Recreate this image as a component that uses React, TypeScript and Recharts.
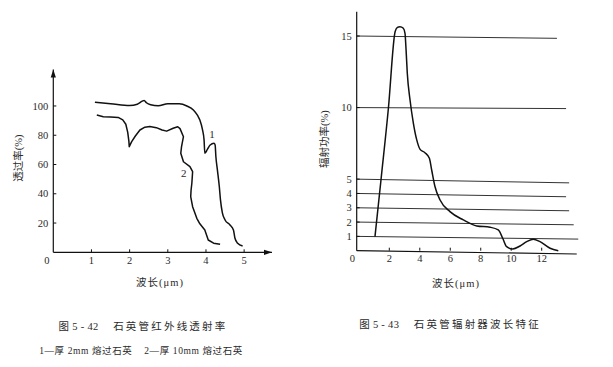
import React from 'react';
import { LineChart, Line, XAxis, YAxis, ReferenceLine, ReferenceDot } from 'recharts';

// ---------- Data: Fig 5-42 (transmission of fused quartz) ----------
const leftXTicks = [0, 1, 2, 3, 4, 5];
const leftYTicks = [20, 40, 60, 80, 100];

// Curve 1: 2mm fused quartz
const quartz2mmWavelength = [1.09, 1.5, 2.0, 2.2, 2.33, 2.38, 2.44, 2.55, 2.75, 3.0, 3.3, 3.5, 3.67, 3.78, 3.84, 3.91, 3.95, 3.97, 4.04, 4.11, 4.21, 4.24, 4.26, 4.3, 4.35, 4.38, 4.43, 4.5, 4.63, 4.72, 4.76, 4.83, 4.96];
const quartz2mmTransmission = [102.5, 101.6, 100.3, 101.2, 103.3, 103.8, 102.2, 100.8, 100.1, 101.6, 101.5, 100, 97.3, 93.5, 90.4, 83.6, 76.8, 67.7, 70.5, 73.3, 74.5, 73.3, 65.3, 56.2, 44.8, 35.8, 27, 22.1, 18.7, 15.2, 9.6, 6.2, 4.3];

// Curve 2: 10mm fused quartz
const quartz10mmWavelength = [1.14, 1.31, 1.5, 1.7, 1.82, 1.9, 1.95, 1.98, 1.99, 2.05, 2.15, 2.27, 2.4, 2.53, 2.7, 2.85, 2.97, 3.14, 3.26, 3.32, 3.41, 3.38, 3.36, 3.34, 3.41, 3.58, 3.65, 3.63, 3.61, 3.6, 3.65, 3.76, 3.84, 3.97, 4.06, 4.2, 4.37];
const quartz10mmTransmission = [93.8, 92.7, 92.4, 92.2, 90.5, 87.5, 82, 76, 72.2, 75.5, 79.5, 83.6, 85.5, 85.9, 85.2, 83.6, 82.8, 84.8, 85.8, 84.5, 79, 75, 72.2, 67.7, 61.9, 58.5, 55.1, 47.2, 42.6, 38, 31.2, 23.2, 19.5, 15.3, 8.4, 6.2, 5.5];

// ---------- Data: Fig 5-43 (quartz tube emitter spectrum) ----------
const rightXTicks = [0, 2, 4, 6, 8, 10, 12];
const rightYTicks = [1, 2, 3, 4, 5, 10, 15];

const emitterWavelength = [1.06, 1.46, 1.94, 2.38, 2.53, 2.7, 2.92, 3.03, 3.1, 3.18, 3.36, 3.58, 3.8, 4.02, 4.34, 4.63, 4.78, 5.0, 5.33, 5.98, 6.86, 7.74, 8.61, 9.15, 9.44, 9.7, 10.1, 10.58, 11.02, 11.45, 11.89, 12.55, 13.09];
const emitterPower = [0.98, 5.01, 9.95, 15.3, 15.6, 15.65, 15.54, 15.19, 14.03, 12.4, 10.53, 8.9, 7.74, 7.08, 6.85, 6.46, 5.64, 4.47, 3.54, 2.73, 2.15, 1.73, 1.64, 1.45, 0.87, 0.28, 0.12, 0.33, 0.63, 0.8, 0.63, 0.17, 0];

// Horizontal guide lines of Fig 5-43 (level, where it ends)
const guideLevels = [15, 10, 5, 4, 3, 2, 1, 0];
const guideEnds = [13.0, 13.6, 13.8, 13.6, 13.8, 14.1, 14.4, 14.3];

// ---------- helpers ----------
const zip = (xs: number[], ys: number[]) => xs.map((x, i) => ({ x, y: ys[i] }));
const curve1 = zip(quartz2mmWavelength, quartz2mmTransmission);
const curve2 = zip(quartz10mmWavelength, quartz10mmTransmission);
const emitter = zip(emitterWavelength, emitterPower);

// scan skew of the guide lines (drop at right end, in value units)
const guideSkew = [0.16, 0.07, 0.26, 0.23, 0.21, 0.19, 0.19, 0.23];

const FONT = "'Liberation Serif', 'Noto Sans CJK SC', serif";
const INK = '#111';
const TXT = '#2a2a2a';

const XTick = (props: any) => {
  const { x, y, payload } = props;
  const v = payload.value;
  return (
    <g>
      {v !== 0 && <line x1={x} x2={x} y1={y} y2={y - 3} stroke={INK} strokeWidth={1} />}
      <text x={v === 0 ? x - 6.5 : x} y={y + 8} dy="0.35em" textAnchor="middle" fontSize={10.5} fill={TXT} fontFamily={FONT}>
        {v}
      </text>
    </g>
  );
};

const YTick = (props: any) => {
  const { x, y, payload } = props;
  return (
    <g>
      <line x1={x} x2={x + 3} y1={y} y2={y} stroke={INK} strokeWidth={1} />
      <text x={x - 5} y={y} dy="0.35em" textAnchor="end" fontSize={10.5} fill={TXT} fontFamily={FONT}>
        {payload.value}
      </text>
    </g>
  );
};

const upArrow = (p: any) => <path d={`M${p.cx},${p.cy} l-2.6,8 l5.2,0 z`} fill={INK} />;
const rightArrow = (p: any) => <path d={`M${p.cx},${p.cy} l-8,-2.6 l0,5.2 z`} fill={INK} />;
const curveLabel = (text: string) => (p: any) => (
  <text x={p.cx} y={p.cy} dy="0.35em" textAnchor="middle" fontSize={11} fill={TXT} fontFamily={FONT}>
    {text}
  </text>
);

const abs = (style: React.CSSProperties): React.CSSProperties => ({ position: 'absolute', ...style });

const AX_H = 30;
const AX_W = 40;

export default function App() {
  return (
    <div style={abs({ left: 0, top: 0, width: 613, height: 367, background: '#fff', fontFamily: FONT, color: TXT, overflow: 'hidden' })}>
      {/* Left chart */}
      <div style={abs({ left: 0, top: 0 })}>
        <LineChart width={613} height={367} margin={{ top: 69.4, right: 341, bottom: 114.7 - AX_H, left: 53.3 - AX_W }}>
          <XAxis
            type="number"
            dataKey="x"
            domain={[0, 5.73]}
            ticks={leftXTicks}
            height={AX_H}
            tickSize={0}
            tickMargin={0}
            tickLine={false}
            tick={<XTick />}
            axisLine={{ stroke: INK, strokeWidth: 1.2 }}
            interval={0}
          />
          <YAxis
            type="number"
            domain={[0, 125]}
            ticks={leftYTicks}
            width={AX_W}
            tickSize={0}
            tickMargin={0}
            tickLine={false}
            tick={<YTick />}
            axisLine={{ stroke: INK, strokeWidth: 1.2 }}
            interval={0}
          />
          <ReferenceDot x={0} y={125} r={0} shape={upArrow} ifOverflow="visible" />
          <ReferenceDot x={5.73} y={0} r={0} shape={rightArrow} ifOverflow="visible" />
          <Line data={curve1} dataKey="y" type="monotone" stroke={INK} strokeWidth={1.5} dot={false} isAnimationActive={false} />
          <Line data={curve2} dataKey="y" type="linear" stroke={INK} strokeWidth={1.5} dot={false} isAnimationActive={false} strokeLinejoin="round" />
          <ReferenceDot x={4.16} y={80.5} r={0} shape={curveLabel('1')} ifOverflow="visible" />
          <ReferenceDot x={3.42} y={53.8} r={0} shape={curveLabel('2')} ifOverflow="visible" />
        </LineChart>
      </div>

      {/* Right chart */}
      <div style={abs({ left: 0, top: 0 })}>
        <LineChart width={613} height={367} margin={{ top: 11.7, right: 33.2, bottom: 116.3 - AX_H, left: 356.7 - AX_W }}>
          <XAxis
            type="number"
            dataKey="x"
            domain={[-0.14, 14.5]}
            ticks={rightXTicks}
            height={AX_H}
            tickSize={0}
            tickMargin={0}
            tickLine={false}
            tick={<XTick />}
            axisLine={false}
            interval={0}
          />
          <YAxis
            type="number"
            domain={[0, 16.7]}
            ticks={rightYTicks}
            width={AX_W}
            tickSize={0}
            tickMargin={0}
            tickLine={false}
            tick={<YTick />}
            axisLine={{ stroke: INK, strokeWidth: 1.2 }}
            interval={0}
          />
          {guideLevels.map((lv, i) => (
            <ReferenceLine
              key={lv}
              segment={[{ x: -0.14, y: lv }, { x: guideEnds[i], y: lv - guideSkew[i] }]}
              stroke={lv === 0 ? INK : '#333'}
              strokeWidth={lv === 0 ? 1.2 : 1}
              ifOverflow="visible"
            />
          ))}
          <Line data={emitter} dataKey="y" type="monotone" stroke={INK} strokeWidth={1.5} dot={false} isAnimationActive={false} />
        </LineChart>
      </div>

      {/* Axis titles */}
      <div style={abs({ left: 18.5, top: 158, transform: 'translate(-50%,-50%) rotate(-90deg)', fontSize: 10.5, whiteSpace: 'nowrap', lineHeight: 1 })}>透过率(%)</div>
      <div style={abs({ left: 160, top: 283, transform: 'translate(-50%,-50%)', fontSize: 10.5, whiteSpace: 'nowrap', letterSpacing: 1, lineHeight: 1 })}>波长(μm)</div>
      <div style={abs({ left: 325, top: 139, transform: 'translate(-50%,-50%) rotate(-90deg)', fontSize: 10.5, whiteSpace: 'nowrap', lineHeight: 1 })}>辐射功率(%)</div>
      <div style={abs({ left: 456, top: 284, transform: 'translate(-50%,-50%)', fontSize: 10.5, whiteSpace: 'nowrap', letterSpacing: 1, lineHeight: 1 })}>波长(μm)</div>

      {/* Captions */}
      <div style={abs({ left: 143, top: 327, transform: 'translate(-50%,-50%)', fontSize: 10.5, whiteSpace: 'pre', lineHeight: 1 })}>
        <span style={{ letterSpacing: 0.3 }}>{'图 5 - 42     '}</span>
        <span style={{ letterSpacing: 2.2 }}>石英管红外线透射率</span>
      </div>
      <div style={abs({ left: 141, top: 352, transform: 'translate(-50%,-50%)', fontSize: 9.5, whiteSpace: 'pre', letterSpacing: 0.6, lineHeight: 1 })}>{'1—厚 2mm 熔过石英    2—厚 10mm 熔过石英'}</div>
      <div style={abs({ left: 450, top: 325, transform: 'translate(-50%,-50%)', fontSize: 10.5, whiteSpace: 'pre', lineHeight: 1 })}>
        <span style={{ letterSpacing: 0.3 }}>{'图 5 - 43     '}</span>
        <span style={{ letterSpacing: 2.2 }}>石英管辐射器波长特征</span>
      </div>
    </div>
  );
}
